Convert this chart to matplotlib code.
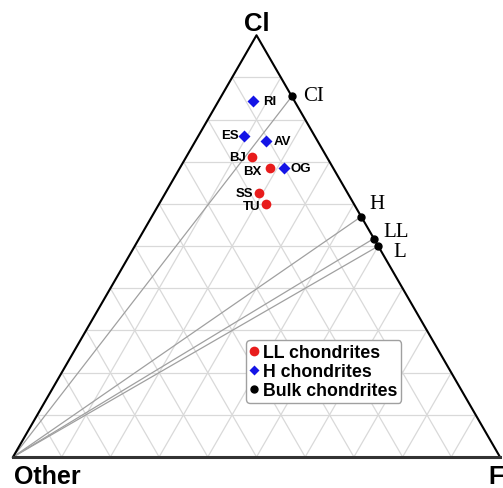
import numpy as np
import matplotlib.pyplot as plt
from matplotlib.lines import Line2D

# sample compositions, percent (Cl, F); Other = 100 - Cl - F
ll_names = ['BJ', 'BX', 'SS', 'TU']
ll_cl = [71.1, 68.5, 62.6, 60.0]
ll_f = [13.5, 18.5, 19.2, 21.9]

h_names = ['RI', 'ES', 'AV', 'OG']
h_cl = [84.5, 76.0, 75.0, 68.5]
h_f = [7.1, 9.5, 14.5, 21.4]

bulk_names = ['CI', 'H', 'LL', 'L']
bulk_cl = [85.5, 57.0, 51.8, 50.0]
bulk_f = [14.5, 43.0, 48.2, 50.0]

# label offsets in pixels (style only)
ll_off = [(-6, 0, 'right'), (-8, -3, 'right'), (-6, 0, 'right'), (-5, -2, 'right')]
h_off = [(10, 0, 'left'), (-6, 1, 'right'), (7, 0, 'left'), (6, 0, 'left')]
bulk_off = [(11, 1, 'left'), (8, 13, 'left'), (10, 7, 'left'), (15, -5, 'left')]

S3 = np.sqrt(3) / 2


def tern(cl, f):
    cl = np.asarray(cl, float) / 100
    f = np.asarray(f, float) / 100
    return f + cl / 2, cl * S3


fig = plt.figure(figsize=(5.03, 4.89), dpi=100)
ax = fig.add_axes([0, 0, 1, 1])
ax.set_xlim(-13 / 487, 490 / 487)
ax.set_ylim(-31 / 487, 458 / 487)
ax.axis('off')

# grid
gc = '#d9d9d9'
for k in range(1, 10):
    t = k / 10
    # constant Cl
    ax.plot([t / 2, 1 - t / 2], [t * S3, t * S3], color=gc, lw=0.9, zorder=1)
    # constant F
    ax.plot([t, t + (1 - t) / 2], [0, (1 - t) * S3], color=gc, lw=0.9, zorder=1)
    # constant Other
    ax.plot([1 - t, (1 - t) / 2], [0, (1 - t) * S3], color=gc, lw=0.9, zorder=1)

# mixing lines from Other vertex
bx, by = tern(bulk_cl, bulk_f)
for x, y in zip(bx, by):
    ax.plot([0, x], [0, y], color='#a0a0a0', lw=0.9, zorder=2)

# triangle
ax.plot([0, 0.5, 1], [0, S3, 0], color='black', lw=1.5, zorder=3)
ax.plot([0, 1], [0, 0], color='#333333', lw=2.2, zorder=3)

lx, ly = tern(ll_cl, ll_f)
hx, hy = tern(h_cl, h_f)
ax.plot(lx, ly, 'o', color='#e81c1c', ms=7, mec='none', zorder=5)
ax.plot(hx, hy, 'D', color='#1414e6', ms=6.3, mec='none', zorder=5)
ax.plot(bx, by, 'o', color='black', ms=5, zorder=5)

lab = dict(fontsize=9.5, fontweight='bold', family='Liberation Sans', va='center')
for n, x, y, o in zip(ll_names, lx, ly, ll_off):
    ax.annotate(n, (x, y), xytext=(o[0], o[1]), textcoords='offset pixels', ha=o[2], **lab)
for n, x, y, o in zip(h_names, hx, hy, h_off):
    ax.annotate(n, (x, y), xytext=(o[0], o[1]), textcoords='offset pixels', ha=o[2], **lab)
for n, x, y, o in zip(bulk_names, bx, by, bulk_off):
    ax.annotate(n, (x, y), xytext=(o[0], o[1]), textcoords='offset pixels', ha=o[2],
                va='center', fontsize=15, family='Liberation Serif')

# apex labels
ax.text(0.5, S3 + 12 / 487, 'Cl', ha='center', va='center', fontsize=18.5,
        fontweight='bold', family='Liberation Sans')
ax.text(1 / 487, -19 / 487, 'Other', ha='left', va='center', fontsize=18,
        fontweight='bold', family='Liberation Sans')
ax.text(475 / 487, -19 / 487, 'F', ha='left', va='center', fontsize=18,
        fontweight='bold', family='Liberation Sans')

handles = [
    Line2D([], [], ls='none', marker='o', color='#e81c1c', ms=7, mec='none'),
    Line2D([], [], ls='none', marker='D', color='#1414e6', ms=5.5, mec='none'),
    Line2D([], [], ls='none', marker='o', color='black', ms=5),
]
leg = ax.legend(handles, ['LL chondrites', 'H chondrites', 'Bulk chondrites'],
                loc='upper left', bbox_to_anchor=(0.49, 0.302), frameon=True,
                fancybox=True, handlelength=0.5, handletextpad=0.25,
                borderpad=0.2, labelspacing=0.12, borderaxespad=0,
                prop={'family': 'Liberation Sans', 'weight': 'bold', 'size': 12.8})
leg.get_frame().set_edgecolor('#a0a0a0')
leg.get_frame().set_linewidth(1.0)
leg.get_frame().set_alpha(1)

fig.savefig('out.png', dpi=100)
